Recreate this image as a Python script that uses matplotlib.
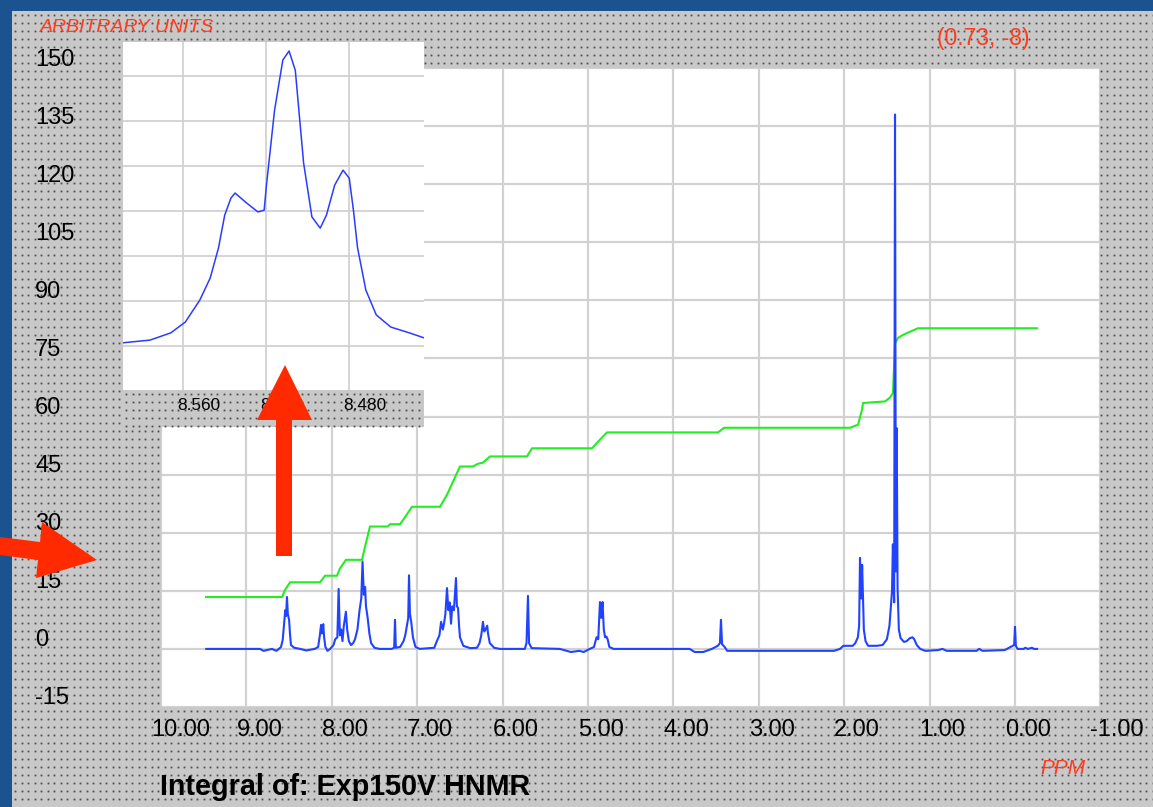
import numpy as np
import matplotlib
matplotlib.use('Agg')
import matplotlib.pyplot as plt
from matplotlib.patches import Rectangle, Polygon
from matplotlib.transforms import ScaledTranslation

plt.rcParams['font.family'] = ['Liberation Sans', 'DejaVu Sans']

W, H, DPI = 1153, 807, 100

## spectrum (ppm, intensity)
spec_ppm = [9.47, 8.84, 8.80, 8.76, 8.70, 8.65, 8.62, 8.595, 8.575, 8.56, 8.545, 8.535, 8.525, 8.515,
            8.50, 8.49, 8.478, 8.44, 8.37, 8.30, 8.20, 8.16, 8.14, 8.126, 8.115, 8.10, 8.09, 8.075,
            8.05, 8.02, 7.98, 7.96, 7.935, 7.92, 7.905, 7.89, 7.875, 7.86, 7.845, 7.835, 7.82, 7.80,
            7.775, 7.75, 7.728, 7.70, 7.675, 7.655, 7.64, 7.625, 7.61, 7.60, 7.58, 7.56, 7.54, 7.50,
            7.44, 7.30, 7.27, 7.26, 7.25, 7.20, 7.16, 7.14, 7.12, 7.105, 7.096, 7.085, 7.07, 7.05,
            7.02, 6.97, 6.80, 6.77, 6.74, 6.72, 6.70, 6.686, 6.67, 6.651, 6.635, 6.62, 6.604, 6.59,
            6.57, 6.546, 6.535, 6.522, 6.51, 6.499, 6.46, 6.38, 6.30, 6.27, 6.25, 6.23, 6.215, 6.20,
            6.18, 6.171, 6.15, 6.10, 6.03, 5.74, 5.72, 5.703, 5.69, 5.66, 5.33, 5.20, 5.10, 5.05,
            4.98, 4.93, 4.90, 4.88, 4.86, 4.845, 4.83, 4.815, 4.80, 4.785, 4.77, 4.75, 4.70, 3.81,
            3.75, 3.65, 3.55, 3.48, 3.455, 3.443, 3.43, 3.40, 3.37, 2.12, 2.05, 2.01, 1.90, 1.87,
            1.84, 1.825, 1.815, 1.80, 1.79, 1.78, 1.77, 1.75, 1.72, 1.62, 1.55, 1.50, 1.47, 1.44,
            1.43, 1.415, 1.405, 1.395, 1.385, 1.375, 1.36, 1.34, 1.30, 1.27, 1.23, 1.20, 1.18, 1.15,
            1.11, 1.05, 0.90, 0.85, 0.80, 0.45, 0.42, 0.38, 0.12, 0.07, 0.03, 0.01, 0.0, -0.01,
            -0.03, -0.10, -0.12, -0.15, -0.20, -0.22, -0.258]
spec_val = [0, 0, -0.5, -0.3, 0, -0.5, 0, 0.5, 2.3, 6, 10, 8.5, 13.4, 9,
            7.5, 4, 1, 0.3, 0, -0.4, 0, 0.5, 3.5, 6.2, 4, 6.4, 3, 0.5,
            -0.5, 0, 1, 2.5, 3, 15.5, 3.5, 5, 2, 5.8, 8, 9.6, 5, 2,
            1.0, 1.5, 2.5, 5, 10, 13, 22.5, 14, 16, 11, 8, 4, 1.5, 0.3,
            0, 0, 0.3, 7.5, 0.3, 0.5, 2, 3.5, 6, 8, 19, 9, 7, 3,
            0.5, 0, 0.3, 2, 3.5, 7, 5, 6.5, 9, 15.7, 10, 12, 6.5, 11,
            10, 18.3, 11, 10.6, 6, 3, 0.8, 0.2, 0.3, 1.5, 3.5, 7, 4.5, 5,
            6, 4, 1.5, 0.3, 0, 0, 1.5, 13.7, 1.5, 0.2, 0, -0.8, -0.5, -0.8,
            0, 0.5, 3, 2.5, 12.1, 8, 12.1, 5, 3, 3.2, 2.5, 0.5, 0, 0,
            -0.8, -0.8, 0, 0.8, 1.5, 7.5, 1.2, 0.5, -0.5, -0.5, 0, 0.8, 0.8, 1.5,
            3, 6, 23.5, 13, 21.7, 13, 5, 2, 0.8, 0.8, 1, 2.5, 6, 15,
            27, 12, 138, 20, 57, 15.7, 5, 2.8, 1.8, 2, 2.8, 3, 2.5, 1,
            0, -0.5, -0.3, 0, -0.5, -0.5, 0, -0.5, -0.3, 0.3, 0.8, 1, 5.7, 0.8,
            0, 0, 0.3, 0, 0.3, 0, 0]

## integral curve
integ_ppm = [9.473, 8.583, 8.548, 8.489, 8.138, 8.080, 7.939, 7.904, 7.834, 7.646, 7.611, 7.576,
             7.553, 7.342, 7.319, 7.201, 7.143, 7.061, 6.733, 6.651, 6.581, 6.499, 6.347, 6.288,
             6.230, 6.148, 5.714, 5.656, 4.953, 4.883, 4.778, 3.478, 3.407, 1.932, 1.838, 1.792,
             1.780, 1.522, 1.464, 1.429, 1.405, 1.370, 1.311, 1.230, 1.136, -0.258]
integ_val = [13.4, 13.4, 15.2, 17.2, 17.2, 18.9, 18.9, 20.8, 23.0, 23.0, 26.4, 29.5,
             31.6, 31.6, 32.2, 32.2, 34.0, 36.7, 36.7, 39.8, 43.2, 47.1, 47.1, 47.8,
             48.1, 49.7, 49.7, 51.8, 51.8, 53.5, 55.9, 55.9, 57.1, 57.1, 57.9, 61.7,
             63.5, 63.9, 64.9, 66.1, 78.9, 80.3, 81.1, 81.9, 82.8, 82.8]

## zoomed multiplet (inset)
inset_ppm = [8.589, 8.576, 8.566, 8.559, 8.552, 8.547, 8.543, 8.540, 8.537, 8.535, 8.530, 8.524,
             8.521, 8.520, 8.516, 8.512, 8.509, 8.506, 8.502, 8.498, 8.494, 8.491, 8.487, 8.483,
             8.480, 8.478, 8.476, 8.472, 8.467, 8.460, 8.451, 8.444]
inset_val = [10.7, 11.3, 12.9, 15.3, 20.2, 25.1, 31.8, 39.1, 42.9, 44.0, 42.0, 39.8,
             40.2, 45.3, 62.4, 73.6, 75.6, 71.3, 50.7, 38.7, 36.2, 39.1, 45.8, 49.1,
             47.3, 40.2, 31.8, 22.4, 16.9, 14.2, 12.9, 11.8]

x_ticks = [10, 9, 8, 7, 6, 5, 4, 3, 2, 1, 0, -1]
x_labels = ['10.00', '9.00', '8.00', '7.00', '6.00', '5.00', '4.00', '3.00', '2.00', '1.00', '0.00', '-1.00']
y_ticks = [-15, 0, 15, 30, 45, 60, 75, 90, 105, 120, 135, 150]
y_labels = ['-15', '0', '15', '30', '45', '60', '75', '90', '105', '120', '135', '150']
inset_ticks = [8.56, 8.52, 8.48]
inset_labels = ['8.560', '8.520', '8.480']

RED = '#ff3b1c'
GRID = '#d2d2d2'

fig = plt.figure(figsize=(W / DPI, H / DPI), dpi=DPI)
fig.patch.set_facecolor('#1b5391')

# background layer in pixel coordinates
bg = fig.add_axes([0, 0, 1, 1], zorder=-5)
bg.set_xlim(0, W)
bg.set_ylim(H, 0)
bg.axis('off')
bg.add_patch(Rectangle((12, 11), W - 12, H - 11, facecolor='#c8c8c8', edgecolor='none'))


def dots(a, x0, x1, y0, y1, z):
    gx = np.arange(x0 + 3, x1, 6.5)
    gy = np.arange(y0 + 4, y1, 8)
    xx, yy = np.meshgrid(gx, gy)
    a.plot(xx.ravel(), yy.ravel(), ls='none', marker='s', ms=1.3, mew=0,
           color='#4d4d4d', transform=bg.transData, clip_on=False, zorder=z)


dots(bg, 12, W, 11, H, 1)

bg.text(40, 28, 'ARBITRARY UNITS', color=RED, style='italic', fontsize=14, va='center', ha='left')
bg.text(937, 38, '(0.73, -8)', color=RED, fontsize=16.5, va='center', ha='left')
bg.text(1040, 769, 'PPM', color=RED, style='italic', fontsize=15, va='center', ha='left')
bg.text(160, 787, 'Integral of: Exp150V HNMR', fontweight='bold', fontsize=20.7, va='center', ha='left')

## main spectrum
ax = fig.add_axes([161 / W, 1 - 707 / H, 939.4 / W, 639 / H], zorder=0)
ax.plot(integ_ppm, integ_val, color='#22ee22', lw=1.5)
ax.plot(spec_ppm, spec_val, color='#2142ff', lw=1.5)
ax.set_xlim(10, -1)
ax.set_ylim(-15, 150)
ax.set_xticks(x_ticks)
ax.set_xticklabels(x_labels)
ax.set_yticks(y_ticks)
ax.set_yticklabels(y_labels)
ax.grid(True, color=GRID, lw=1.6)
ax.set_axisbelow(True)
ax.tick_params(length=0, labelsize=17)
ax.tick_params(axis='x', pad=9)
ax.tick_params(axis='y', pad=126 * 72 / DPI)
for s in ax.spines.values():
    s.set_visible(False)
for lab in ax.get_xticklabels():
    lab.set_ha('left')
    lab.set_transform(lab.get_transform() + ScaledTranslation(-10 / DPI, 0, fig.dpi_scale_trans))
for lab in ax.get_yticklabels():
    lab.set_ha('left')
    lab.set_transform(lab.get_transform() + ScaledTranslation(0, 11 / DPI, fig.dpi_scale_trans))

## inset
ins = fig.add_axes([123 / W, 1 - 390 / H, 301 / W, 348 / H], zorder=1)
ins.add_patch(Rectangle((123, 390), 301, 37, transform=bg.transData, facecolor='#c8c8c8',
                        edgecolor='none', clip_on=False, zorder=0.2))
dots(ins, 123, 424, 390, 427, 0.3)
ins.plot(inset_ppm, inset_val, color='#2a3cff', lw=1.1)
ins.set_xlim(8.589, 8.444)
ins.set_ylim(0.2, 77.6)
ins.set_xticks(inset_ticks)
ins.set_xticklabels(inset_labels)
ins.set_yticks(range(10, 80, 10))
ins.set_yticklabels([])
ins.grid(True, color=GRID, lw=1.3)
ins.set_axisbelow(True)
ins.tick_params(length=0, labelsize=12.4, pad=6)
for s in ins.spines.values():
    s.set_visible(False)
for lab in ins.get_xticklabels():
    lab.set_ha('left')
    lab.set_transform(lab.get_transform() + ScaledTranslation(-6 / DPI, 0, fig.dpi_scale_trans))

## red arrows on top
top = fig.add_axes([0, 0, 1, 1], zorder=5)
top.set_xlim(0, W)
top.set_ylim(H, 0)
top.axis('off')
top.add_patch(Polygon([(276, 556), (276, 420), (257, 420), (285, 365), (312, 420), (292, 420), (292, 556)],
                      closed=True, facecolor='#ff2a00', edgecolor='none'))
top.add_patch(Polygon([(0, 537), (40, 542), (42, 522), (97, 560), (36, 578), (38, 560), (0, 555)],
                      closed=True, facecolor='#ff2a00', edgecolor='none'))

fig.savefig('out.png', dpi=DPI, facecolor=fig.get_facecolor())
